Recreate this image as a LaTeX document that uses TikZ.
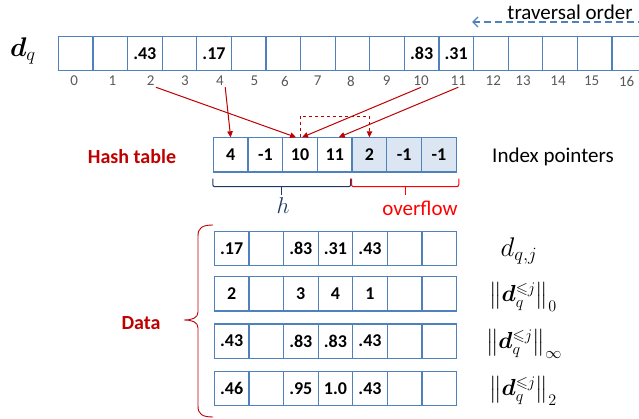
\documentclass[tikz,border=0pt]{standalone}
\usepackage{amsmath}
\usepackage{amssymb}
\usepackage{bm}
\usepackage{graphicx}
\usepackage{fontspec}
\setmainfont{Carlito}
\usetikzlibrary{arrows.meta,calc}

\definecolor{cellblue}{HTML}{4F81BD}
\definecolor{cellfill}{HTML}{DCE6F2}
\definecolor{darkred}{HTML}{C00000}
\definecolor{brightred}{HTML}{FF0000}
\definecolor{navy}{HTML}{1F3864}
\definecolor{idxgray}{HTML}{595959}
\newcommand\normlbl[2]{\scalebox{#1}{$\left\|\bm{d}_q^{\leqslant j}\right\|_{#2}$}}

\begin{document}
\begin{tikzpicture}[x=1pt,y=-1pt,line width=0.8pt,>={Triangle[length=6pt,width=5.5pt]}]
\tikzset{cell/.style={draw=cellblue,line width=1.2pt,minimum width=34.6pt,
    minimum height=34.2pt,inner sep=0pt,font=\fontsize{18}{20}\selectfont\bfseries},
  idx/.style={text=idxgray,font=\fontsize{15}{18}\selectfont,inner sep=1pt},
  ptr/.style={darkred,line width=1pt,->},
  caption/.style={font=\fontsize{21}{24}\selectfont},
  hdr/.style={font=\fontsize{20}{24}\selectfont\bfseries,text=darkred},
  bigmath/.style={font=\fontsize{20}{24}\selectfont,inner sep=0pt}}
\def\W{34.6}
\useasboundingbox (0,0) rectangle (639,419);
% ---- top: the query vector d_q ----
\node[bigmath] (dq) at (23,51) {\scalebox{1.3}{$\bm{d}_q$}};
\foreach \v [count=\i from 0] in {{},{},.43,{},.17,{},{},{},{},{},.83,.31,{},{},{},{},{}}
  \node[cell] (d\i) at ({58.3+(\i+0.5)*\W},53.8) {\v};
\foreach \i/\x in {0/74.3,1/112.3,2/150.7,3/185,4/220,5/254.3,6/285,7/317.7,8/351,
    9/386.7,10/421,11/458.3,12/493.3,13/523,14/558,15/591.7,16/626.7}
  \node[idx] (n\i) at (\x,81) {\i};
\node[caption] (trav) at (570,12) {traversal order};
\coordinate (travstart) at (645,22);
\coordinate (travend) at (472,22);
\draw[cellblue,line width=1.4pt,dash pattern=on 7pt off 4pt,
  -{Straight Barb[length=5pt,width=10pt]}] (travstart) -- (travend);
% ---- middle: hash table with overflow ----
\node[hdr] (hashlbl) at (132,157) {Hash table};
\foreach \v [count=\i from 0] in {4,-1,10,11}
  \node[cell] (h\i) at ({213.3+(\i+0.5)*34.7},155) {\v};
\foreach \v [count=\i from 4] in {2,-1,-1}
  \node[cell,fill=cellfill] (h\i) at ({213.3+(\i+0.5)*34.7},155) {\v};
\node[caption] (idxptr) at (553,157) {Index pointers};
\draw[ptr] (n2.south east) -- ($(h2.north)+(-4,0)$);
\draw[ptr] (n4.south east) -- (h0.north);
\draw[ptr] (n10.south) -- ($(h2.north)+(2,0)$);
\draw[ptr] (n11.south) -- ($(h3.north)+(4,0)$);
\draw[ptr,dashed] (h2.north) -- ++(0,-21) -| (h4.north);
% braces under the table
\draw[navy,line width=1pt,rounded corners=2pt] ($(h0.south west)+(0,6)$)
  -- ($(h0.south west)+(0,14)$) -- ($(h3.south east)+(-2,14)$) -- ($(h3.south east)+(-2,6)$);
\draw[navy,line width=1pt] ($(h0.south west)!0.5!(h3.south east)+(-1,14)$) -- ++(0,8);
\draw[brightred,line width=1pt,rounded corners=2pt] ($(h4.south west)+(0,6)$)
  -- ($(h4.south west)+(0,14)$) -- ($(h6.south east)+(2,14)$) -- ($(h6.south east)+(2,6)$);
\draw[brightred,line width=1pt] ($(h4.south west)!0.5!(h6.south east)+(1,14)$) -- ++(0,8);
\node[bigmath,text=navy] (hlbl) at (283,206) {\scalebox{1.1}{$h$}};
\node[caption,text=brightred] (ovf) at (420,208) {overflow};
% ---- bottom: data rows ----
\foreach \r/\yy/\vals in {1/248.7/{.17,{},.83,.31,.43,{},{}},
    2/293.8/{2,{},3,4,1,{},{}},
    3/341/{.43,{},.83,.83,.43,{},{}},
    4/388.7/{.46,{},.95,1.0,.43,{},{}}}
  \foreach \v [count=\c from 0] in \vals
    \node[cell] (r\r c\c) at ({214.3+(\c+0.5)*\W},\yy) {\v};
\node[bigmath] (lbl1) at (519,251) {\scalebox{1.3}{$d_{q,j}$}};
\node[bigmath] (lbl2) at (523,297) {\normlbl{1.12}{0}};
\node[bigmath] (lbl3) at (524,344) {\normlbl{1.12}{\infty}};
\node[bigmath] (lbl4) at (523,391) {\normlbl{1.12}{2}};
\draw[darkred,line width=0.9pt] (213,225) .. controls (202,225) and (198,228) .. (198,236)
  -- (198,312) .. controls (198,318) and (192,320) .. (184,320)
  .. controls (192,320) and (198,322) .. (198,328) -- (198,406)
  .. controls (198,414) and (202,417) .. (213,417);
\node[hdr] (datalbl) at (141,323) {Data};
\end{tikzpicture}
\end{document}
